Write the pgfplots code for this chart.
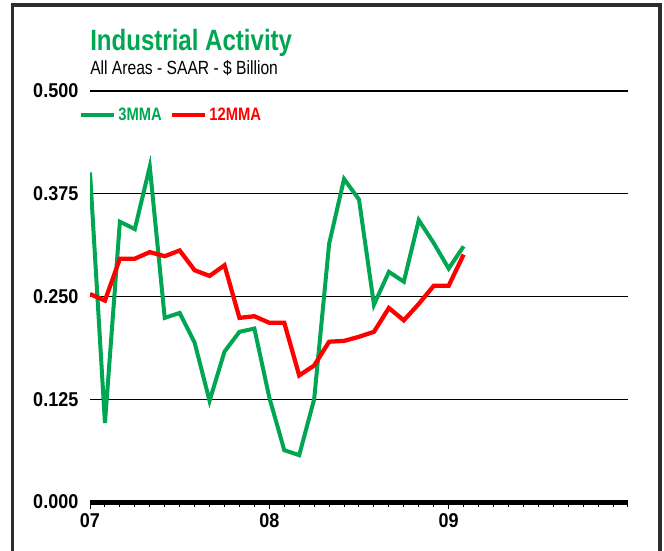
\documentclass[border=0pt]{standalone}
\usepackage{fontspec}
\setmainfont{Liberation Sans}[FakeStretch=0.82]
\newfontfamily\tickfont{Liberation Sans}[FakeStretch=0.9]
\usepackage{pgfplots}
\pgfplotsset{compat=1.18}
\definecolor{iagreen}{RGB}{0,166,81}
\definecolor{iared}{RGB}{255,0,0}
\definecolor{framegray}{RGB}{45,45,45}

\begin{document}
\begin{tikzpicture}[x=0.75pt,y=0.75pt]
\useasboundingbox (0,0) rectangle (664,550);
\draw[framegray, line width=2.5pt] (12.5,-10) -- (12.5,545) -- (660,545) -- (660,-10);
\node[anchor=base west, inner sep=0pt, text=iagreen, font=\bfseries\fontsize{22}{24}\selectfont] at (90,499) {Industrial Activity};
\node[anchor=base west, inner sep=0pt, font=\fontsize{14.3}{16}\selectfont] at (90,475) {All Areas - SAAR - \$ Billion};
\begin{axis}[
  at={(67.5pt,36pt)}, anchor=south west,
  scale only axis, width=403.5pt, height=308.25pt,
  xmin=0, xmax=36, ymin=0, ymax=0.5,
  axis x line*=bottom, axis y line*=left,
  x axis line style={-, line width=3.75pt},
  y axis line style={draw=none},
  xtick={0,12,24}, xticklabels={07,08,09},
  minor xtick={0,...,36},
  tick align=outside,
  major tick length=5.25pt, minor tick length=3.75pt,
  xtick style={line width=0.75pt, black},
  ytick={0,0.125,0.25,0.375,0.5},
  ytick style={draw=none},
  ymajorgrids, grid style={black, line width=1pt},
  /pgf/number format/assume math mode=true,
  yticklabel style={/pgf/number format/.cd, fixed, fixed zerofill, precision=3},
  tick label style={font=\tickfont\bfseries\fontsize{15}{16}\selectfont},
  legend style={at={(-0.0205,0.9416)}, anchor=west, draw=none, fill=none,
    inner sep=0pt, legend columns=-1,
    font=\bfseries\fontsize{13.5}{14}\selectfont,
    /tikz/every even column/.append style={column sep=4pt}},
  legend image code/.code={\draw[#1] (0pt,0pt) -- (24.4pt,0pt);},
]
\addplot[iagreen, line width=3pt] coordinates {
(0,0.401)(1,0.096)(2,0.341)(3,0.332)(4,0.408)(5,0.224)(6,0.230)(7,0.194)
(8,0.123)(9,0.183)(10,0.207)(11,0.211)(12,0.127)(13,0.063)(14,0.057)(15,0.125)
(16,0.314)(17,0.393)(18,0.368)(19,0.240)(20,0.280)(21,0.268)(22,0.343)(23,0.315)
(24,0.284)(25,0.311)};
\addlegendentry{\textcolor{iagreen}{3MMA}}
\addplot[iared, line width=3.2pt] coordinates {
(0,0.253)(1,0.245)(2,0.296)(3,0.296)(4,0.304)(5,0.299)(6,0.306)(7,0.282)
(8,0.275)(9,0.288)(10,0.224)(11,0.226)(12,0.218)(13,0.218)(14,0.154)(15,0.166)
(16,0.195)(17,0.196)(18,0.201)(19,0.207)(20,0.236)(21,0.221)(22,0.241)(23,0.263)
(24,0.263)(25,0.301)};
\addlegendentry{\textcolor{iared}{12MMA}}
\end{axis}
\end{tikzpicture}
\end{document}
